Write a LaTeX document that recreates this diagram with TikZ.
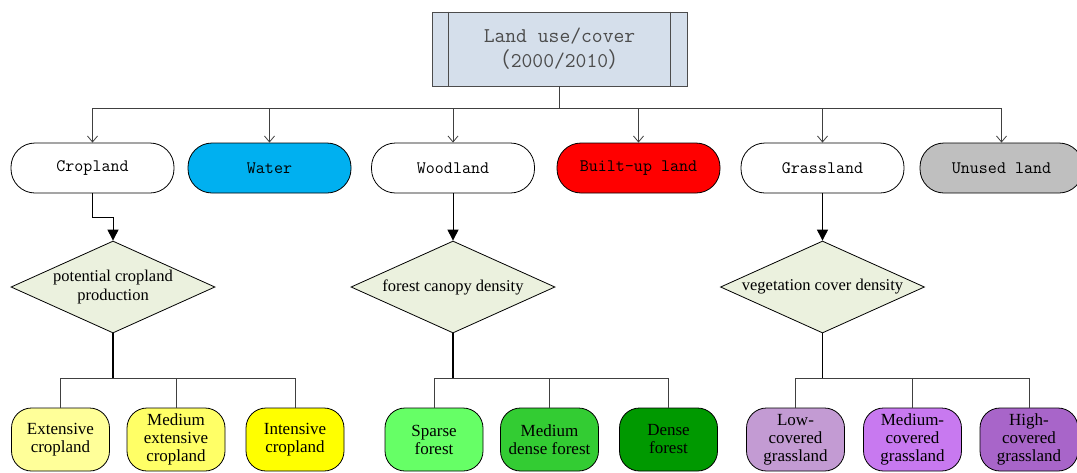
\documentclass[tikz,border=0pt]{standalone}
\usepackage{fontspec}
\setmainfont{Liberation Serif}
\newfontfamily\cjk{Noto Sans CJK SC}
\usetikzlibrary{arrows.meta,positioning,shapes.geometric}

\definecolor{rootfill}{HTML}{D5DFEB}
\definecolor{decfill}{HTML}{EBF1DE}
\definecolor{waterc}{HTML}{00B0F0}
\definecolor{builtc}{HTML}{FF0000}
\definecolor{unusedc}{HTML}{BFBFBF}
\definecolor{extc}{HTML}{FFFF99}
\definecolor{medcropc}{HTML}{FFFF66}
\definecolor{intc}{HTML}{FFFF00}
\definecolor{sparsec}{HTML}{66FF66}
\definecolor{meddensec}{HTML}{33CC33}
\definecolor{densec}{HTML}{009900}
\definecolor{lowc}{HTML}{C39BD3}
\definecolor{medgrassc}{HTML}{C879F0}
\definecolor{highc}{HTML}{A865C9}

\begin{document}
\begin{tikzpicture}[
  x=1pt,y=-1pt,
  cls/.style={draw,line width=0.8pt,rounded corners=24pt,minimum width=163pt,
    minimum height=50pt,inner sep=0pt,font=\ttfamily\fontsize{17.5}{20}\selectfont},
  decision/.style={draw,line width=0.8pt,diamond,aspect=2.2,fill=decfill,
    minimum width=204pt,minimum height=92pt,inner sep=0pt,align=center,
    font=\fontsize{16.5}{19}\selectfont},
  leaf/.style={draw,line width=0.8pt,rounded corners=20pt,minimum width=98pt,
    minimum height=63pt,inner sep=1pt,align=center,font=\fontsize{17}{18}\selectfont},
  bus/.style={draw,black!75,line width=0.8pt},
  open/.style={bus,-{Straight Barb[length=6pt,width=10pt]}},
  solid/.style={draw,black,line width=1pt,-{Triangle[length=11pt,width=11pt]}}
]
\useasboundingbox (0,0) rectangle (1077,472);

% root
\node[draw,black!70,line width=0.8pt,fill=rootfill,minimum width=255pt,minimum height=74pt,
  align=center,font=\ttfamily\fontsize{21}{25}\selectfont] (root) at (559.5,49)
  {Land use/cover\\{\cjk （}2000/2010{\cjk ）}};
\draw[black!70,line width=0.8pt] ([xshift=17pt]root.north west) -- ([xshift=17pt]root.south west);
\draw[black!70,line width=0.8pt] ([xshift=-17pt]root.north east) -- ([xshift=-17pt]root.south east);

% classes
\node[cls] (crop) at (92.5,168) {Cropland};
\node[cls,fill=waterc] (water) at (269.5,168) {Water};
\node[cls] (wood) at (453,168) {Woodland};
\node[cls,fill=builtc] (built) at (638.5,168) {Built-up land};
\node[cls] (grass) at (822.5,168) {Grassland};
\node[cls,fill=unusedc] (unused) at (1001.5,168) {Unused land};

\coordinate (hub) at (559.5,108);
\draw[bus] (root.south) -- (hub);
\foreach \n in {crop,water,wood,built,grass,unused}
  \draw[open] (hub) -| (\n.north);

% decisions
\node[decision] (cropDec) at (113,287) {potential cropland\\production};
\node[decision] (woodDec) at (453,287) {forest canopy density};
\node[decision] (grassDec) at (822.5,287) {vegetation cover density};

\draw[solid] (crop.south) -- ++(0,24) -| (cropDec.north);
\draw[solid] (wood.south) -- (woodDec.north);
\draw[solid] (grass.south) -- (grassDec.north);

% cropland grades
\node[leaf,fill=extc] (ext) at (60.5,439.5) {Extensive\\cropland};
\node[leaf,fill=medcropc] (medCrop) at (176,439.5) {Medium\\extensive\\cropland};
\node[leaf,fill=intc] (intCrop) at (295,439.5) {Intensive\\cropland};

% forest grades
\node[leaf,fill=sparsec] (sparse) at (434,439.5) {Sparse\\forest};
\node[leaf,fill=meddensec] (medDense) at (549.5,439.5) {Medium\\dense forest};
\node[leaf,fill=densec] (dense) at (668.5,439.5) {Dense\\forest};

% grassland grades
\node[leaf,fill=lowc] (low) at (795.5,439.5) {Low-\\covered\\grassland};
\node[leaf,fill=medgrassc] (medGrass) at (912.5,439.5) {Medium-\\covered\\grassland};
\node[leaf,fill=highc] (high) at (1029,439.5) {High-\\covered\\grassland};

\foreach \d/\a/\b/\c in {cropDec/ext/medCrop/intCrop,woodDec/sparse/medDense/dense,
    grassDec/low/medGrass/high}{
  \draw[black,line width=1.3pt] (\d.south) -- ++(0,45) coordinate (\d hub);
  \draw[bus] (\d hub) -| (\a.north);
  \draw[bus] (\d hub) -| (\b.north);
  \draw[bus] (\d hub) -| (\c.north);
}
\end{tikzpicture}
\end{document}
